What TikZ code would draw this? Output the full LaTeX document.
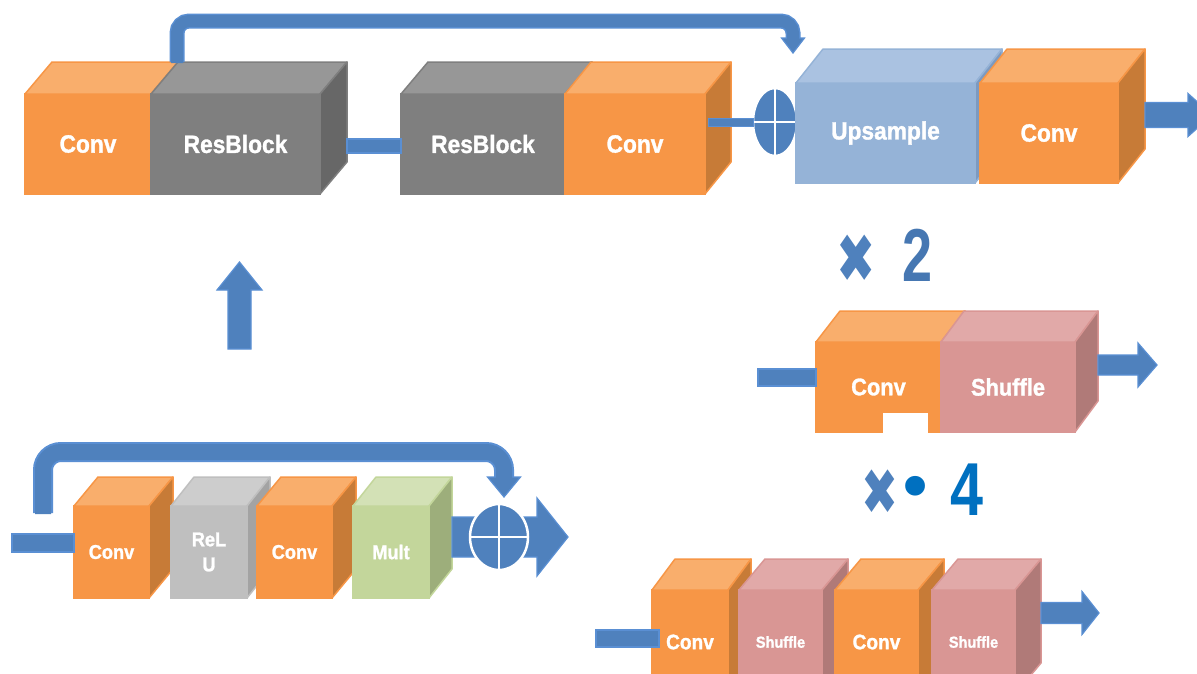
\documentclass[tikz,border=0pt]{standalone}
\usepackage{graphicx}
\usepackage{fontspec}
\setmainfont{Liberation Sans}
\newfontfamily\boxfont{Liberation Sans}[FakeStretch=0.91, FakeBold=1.3]
\newfontfamily\symfont{DejaVu Sans}
\usetikzlibrary{calc,shapes.geometric}

% face colours: F = front, T = top, S = side
\definecolor{orF}{HTML}{F79646}
\definecolor{orT}{HTML}{F9AE6C}
\definecolor{orS}{HTML}{C77B37}
\definecolor{grF}{HTML}{7F7F7F}
\definecolor{grT}{HTML}{979797}
\definecolor{grS}{HTML}{676767}
\definecolor{blF}{HTML}{95B3D7}
\definecolor{blT}{HTML}{AAC2E1}
\definecolor{blS}{HTML}{7D9AC0}
\definecolor{pkF}{HTML}{D99694}
\definecolor{pkT}{HTML}{E1A9A8}
\definecolor{pkS}{HTML}{B07A78}
\definecolor{lgF}{HTML}{BFBFBF}
\definecolor{lgT}{HTML}{CDCDCD}
\definecolor{lgS}{HTML}{A3A3A3}
\definecolor{gnF}{HTML}{C3D69B}
\definecolor{gnT}{HTML}{D3E1B6}
\definecolor{gnS}{HTML}{9DAE7B}
\definecolor{flow}{HTML}{4F81BD}
\definecolor{flowedge}{HTML}{5A8FD3}
\definecolor{deepblue}{HTML}{0070C0}
\definecolor{twoblue}{HTML}{4677B2}

\tikzset{
  cubefront/.style={rectangle, anchor=north west, inner sep=0pt, outer sep=0pt,
    align=center, text=white, line width=1.5pt},
  face/.style={line width=1.5pt, line join=round},
  blockarrow/.style={fill=flow, draw=flowedge, line width=1.2pt, line join=miter},
  oplus/.style={ellipse, fill=flow, draw=white, line width=2.5pt, inner sep=0pt, outer sep=0pt},
  crossbar/.style={draw=white, line width=2.5pt},
  bigsym/.style={inner sep=0pt, outer sep=0pt},
}

% 3-D block: name, NW corner of front face, width, height, depth vector,
% colour prefix, font size, label
\newcommand\cube[8]{%
  \node[cubefront, fill=#6F, draw=#6F, minimum width=#3pt, minimum height=#4pt,
        font=\boxfont\bfseries\fontsize{#7}{25}\selectfont] (#1) at #2 {#8};
  \filldraw[face, fill=#6T, draw=#6F] (#1.north west) -- ++#5
     -- ($(#1.north east)+#5$) -- (#1.north east) -- cycle;
  \filldraw[face, fill=#6S, draw=#6F] (#1.north east) -- ++#5
     -- ($(#1.south east)+#5$) -- (#1.south east) -- cycle;
}

% right-pointing block arrow: start coordinate, shaft length,
% half shaft width, half head width, head length
\newcommand\rightblock[5]{%
  \filldraw[blockarrow] ([yshift=#3pt]#1) -- ++(#2,0) -- ++(0,#3-#4)
     -- ++(#5,#4) -- ++(-#5,#4) -- ++(0,#3-#4) -- ++(-#2,0) -- cycle;
}

\begin{document}
\begin{tikzpicture}[x=1pt, y=-1pt]
\useasboundingbox (0,0) rectangle (1197,673);
\clip (0,0) rectangle (1197,673);
\fill[white] (0,0) rectangle (1197,673);

% ---------- top row: trunk + upsampler ----------
\cube{c1}{(25,94)}{126}{100}{(27,-32)}{or}{25}{Conv}
\cube{rb1}{(151,94)}{169}{100}{(27,-32)}{gr}{25}{ResBlock}
\cube{rb2}{(401,94)}{164}{100}{(27,-32)}{gr}{25}{ResBlock}
\cube{c2}{(565,94)}{140}{100}{(26,-32)}{or}{25}{Conv}

\filldraw[blockarrow] ($(rb1.east)+(27,-5)$) rectangle ($(rb2.west)+(0,9)$);

\node[oplus, minimum width=44pt, minimum height=68pt] (op1) at (775,122) {};
\draw[crossbar] (op1.north) -- (op1.south) (op1.west) -- (op1.east);
\filldraw[blockarrow, line width=0.8pt] ($(c2.east)+(3,-26)$) rectangle ($(op1.west)+(0,4)$);

\cube{up}{(796,83)}{179}{100}{(27,-34)}{bl}{25}{Upsample}
\cube{c3}{(980,83)}{138}{100}{(27,-34)}{or}{25}{Conv}

\coordinate (topout) at ($(c3.east)+(27,-18)$);
\rightblock{topout}{43}{12.5}{21.5}{24}

% global skip connection over the trunk
\coordinate (s1a) at ($(c1.north west)+(152,-32)$);
\coordinate (s1h) at (793,38);
\coordinate (s1tip) at (793,53);
\draw[draw=flowedge, line width=15pt, rounded corners=12pt] (s1a) |- ($(s1h)+(0,-17)$) -- (s1h);
\filldraw[blockarrow] ([xshift=-11.5pt]s1h) -- ([xshift=11.5pt]s1h) -- (s1tip) -- cycle;
\draw[draw=flow, line width=12pt, rounded corners=12pt] ([yshift=-1pt]s1a) |- ($(s1h)+(0,-17)$) -- ([yshift=-2pt]s1h);

% ---------- upsampler variants ----------
\node[bigsym, text=flow, font=\symfont\fontsize{68}{68}\selectfont] (times2) at (856,258.5) {\scalebox{0.69}[1]{✖}};
\node[bigsym, text=twoblue, font=\bfseries\fontsize{75}{75}\selectfont] (two) at (918,255) {\scalebox{0.72}[1]{2}};

\coordinate (midin) at (758,378);
\cube{mc}{(816,342)}{125}{90}{(24,-31)}{or}{24}{Conv}
\fill[white] (883,413) rectangle (928,433);
\cube{ms}{(941,342)}{134}{90}{(23,-31)}{pk}{24}{Shuffle}
\filldraw[blockarrow] ($(mc.west)+(-58,-18)$) rectangle ($(mc.west)+(0,-1)$);
\coordinate (midout) at ($(ms.east)+(23,-22)$);
\rightblock{midout}{40}{10}{22}{19}

\node[bigsym, text=flow, font=\symfont\fontsize{64}{64}\selectfont] (times4) at (880,492) {\scalebox{0.69}[1]{✖}};
\node[bigsym, text=deepblue, font=\symfont\fontsize{68}{68}\selectfont] (dot4) at (916,494) {\makebox[16pt][c]{•}};
\node[bigsym, text=deepblue, font=\bfseries\fontsize{75}{75}\selectfont] (four) at (966.5,490) {\scalebox{0.79}[1]{4}};

\cube{rc1}{(652,590)}{76}{104}{(23,-31)}{or}{21}{Conv}
\cube{rs1}{(739,590)}{83}{104}{(26,-31)}{pk}{16}{Shuffle}
\cube{rc2}{(835,590)}{83}{104}{(26,-31)}{or}{21}{Conv}
\cube{rs2}{(932,590)}{83}{104}{(26,-31)}{pk}{16}{Shuffle}
\filldraw[blockarrow] ($(rc1.west)+(-56,-12)$) rectangle ($(rc1.west)+(7,5)$);
\coordinate (botout) at ($(rs2.east)+(26,-29)$);
\rightblock{botout}{41}{10.5}{21.5}{17}

% ---------- arrow from residual block up to trunk ----------
\coordinate (upfoot) at (239.5,349);
\filldraw[blockarrow] ([xshift=-11.5pt]upfoot) -- ++(0,-59) -- ++(-11,0)
   -- ++(22.5,-28) -- ++(22.5,28) -- ++(-11,0) -- ++(0,59) -- cycle;

% ---------- residual block ----------
\cube{bc1}{(74,506)}{75}{92}{(24,-29)}{or}{20}{Conv}
\cube{brl}{(171,506)}{76}{92}{(23,-29)}{lg}{20}{ReL\\U}
\cube{bc2}{(257,506)}{75}{92}{(24,-29)}{or}{20}{Conv}
\cube{bm}{(353,506)}{76}{92}{(23,-29)}{gn}{20}{Mult}

\filldraw[blockarrow] ($(bc1.west)+(-62,-18)$) rectangle (bc1.west);

\coordinate (resout) at ($(bm.east)+(23,-15)$);
\rightblock{resout}{85}{20}{39}{31}
\node[oplus, minimum width=58pt, minimum height=66pt] (op2) at (499,537) {};
\draw[crossbar] (op2.north) -- (op2.south) (op2.west) -- (op2.east);

% local skip connection
\coordinate (s2a) at (43,513);
\coordinate (s2h) at (504,477);
\coordinate (s2tip) at (504,497);
\draw[draw=flowedge, line width=20pt, rounded corners=18pt] (s2a) |- ($(s2h)+(0,-25)$) -- (s2h);
\filldraw[blockarrow] ([xshift=-16.5pt]s2h) -- ([xshift=16.5pt]s2h) -- (s2tip) -- cycle;
\draw[draw=flow, line width=16pt, rounded corners=18pt] ([yshift=-1pt]s2a) |- ($(s2h)+(0,-25)$) -- ([yshift=-2pt]s2h);
\end{tikzpicture}
\end{document}
